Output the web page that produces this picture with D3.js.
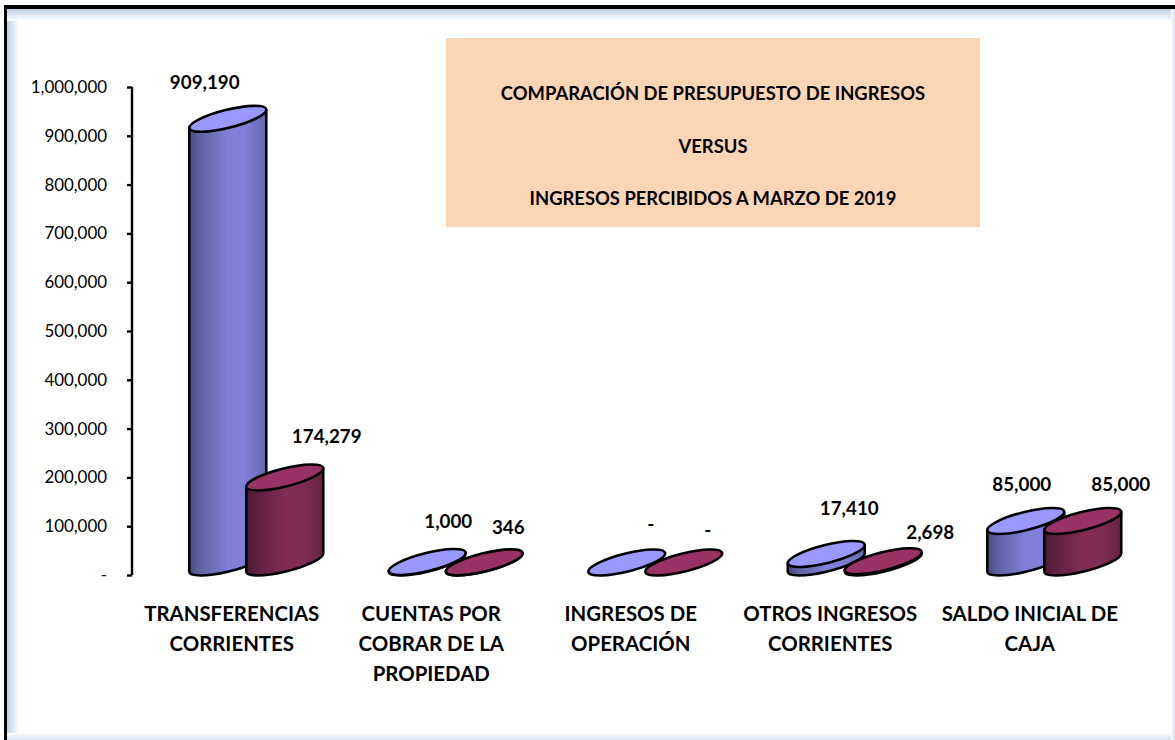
<!DOCTYPE html>
<html><head><meta charset="utf-8">
<script src="https://cdnjs.cloudflare.com/ajax/libs/d3/7.8.5/d3.min.js"></script>
<style>html,body{margin:0;padding:0;background:#fff;overflow:hidden}svg{display:block}text{font-family:Lato,"Open Sans",sans-serif;fill:#000}</style>
</head><body><svg id="c" width="1175" height="740"></svg>
<script>
const categories=[["TRANSFERENCIAS","CORRIENTES"],["CUENTAS POR","COBRAR DE LA","PROPIEDAD"],["INGRESOS DE","OPERACIÓN"],["OTROS INGRESOS","CORRIENTES"],["SALDO INICIAL DE","CAJA"]];
const presupuesto=[909190,1000,0,17410,85000];
const percibidos=[174279,346,0,2698,85000];
const tickValues=[0,100000,200000,300000,400000,500000,600000,700000,800000,900000,1000000];
const titleLines=["COMPARACIÓN DE PRESUPUESTO DE INGRESOS","VERSUS","INGRESOS PERCIBIDOS A MARZO DE 2019"];
// label offsets from the centre of each cylinder's top face
const blueLabelOffset=[[-23,-36],[21,-41],[24,-38],[23,-46],[-4,-37]];
const redLabelOffset=[[42,-41],[24,-35],[24,-32],[47,-29],[38,-37]];

const svg=d3.select("#c"),defs=svg.append("defs");
function grad(id,stops,x2=1,y2=0){const g=defs.append("linearGradient").attr("id",id).attr("x1",0).attr("y1",0).attr("x2",x2).attr("y2",y2);
 stops.forEach(s=>g.append("stop").attr("offset",s[0]).attr("stop-color",s[1]));}
grad("gBlue",[[0,"#4a4a80"],[.12,"#5f5fa0"],[.5,"#8080d8"],[.72,"#8080d8"],[1,"#6666ac"]]);
grad("gRed",[[0,"#4c1a33"],[.12,"#5c1f3e"],[.5,"#802d55"],[.72,"#802d55"],[1,"#662445"]]);
grad("glowL",[[0,"#bccfe6"],[1,"#ffffff"]]);
grad("glowT",[[0,"#bccfe6"],[1,"#ffffff"]],0,1);
grad("glowB",[[0,"#ffffff"],[1,"#d5e0ef"]],0,1);
grad("glowR",[[0,"#ffffff"],[1,"#d5e0ef"]]);

svg.append("rect").attr("x",7).attr("y",9).attr("width",12).attr("height",731).attr("fill","url(#glowL)");
svg.append("rect").attr("x",7).attr("y",9).attr("width",1168).attr("height",12).attr("fill","url(#glowT)");
svg.append("rect").attr("x",7).attr("y",733).attr("width",1168).attr("height",7).attr("fill","url(#glowB)");
svg.append("rect").attr("x",1171).attr("y",9).attr("width",4).attr("height",731).attr("fill","url(#glowR)");
svg.append("rect").attr("x",4).attr("y",5).attr("width",1171).attr("height",4).attr("fill","#000");
svg.append("rect").attr("x",4).attr("y",5).attr("width",3).attr("height",735).attr("fill","#000");

const y=d3.scaleLinear().domain([0,1000000]).range([575,87]);
const x=d3.scaleBand().domain(d3.range(categories.length)).range([132,1129.5]);
const series=d3.scaleBand().domain([0,1]).range([-32.5,81.5]);

const yAxis=d3.axisLeft(y).tickValues(tickValues).tickSize(5).tickPadding(20)
 .tickFormat(d=>d===0?"-":d3.format(",")(d));
const ag=svg.append("g").attr("transform","translate(132,0)").call(yAxis);
ag.select(".domain").attr("stroke","#000").attr("stroke-width",2.4).attr("d",`M0,${y(1000000)}V${y(0)}`);
ag.selectAll(".tick line").attr("stroke","#000").attr("stroke-width",2.4);
ag.selectAll(".tick text").style("font-family","Lato").style("font-size","16.9px").attr("fill","#000");

// Title box
svg.append("rect").attr("x",446).attr("y",38).attr("width",534).attr("height",189).attr("fill","#fcd5b5");
svg.append("g").selectAll("text").data(titleLines).join("text")
 .attr("x",713).attr("y",(d,i)=>100+i*52.5).attr("text-anchor","middle").attr("font-weight",700).attr("font-size",18.4).text(d=>d);

// cylinders
const a=39.6,b=9.05,theta=-14*Math.PI/180,faceLift=12.5;
const tT=Math.atan(-(b/a)*Math.tan(theta));
const tx=a*Math.cos(tT)*Math.cos(theta)-b*Math.sin(tT)*Math.sin(theta);
const ty=a*Math.cos(tT)*Math.sin(theta)+b*Math.sin(tT)*Math.cos(theta);
const rot=theta*180/Math.PI;
function drawCylinder(g,cx,v,fillId,topFill){
 const cyT=y(v)-faceLift,cyB=y(0)-faceLift;
 if(v>0){
  g.append("path").attr("d",`M${cx-tx},${cyT-ty}L${cx-tx},${cyB-ty}A${a},${b} ${rot} 0 0 ${cx+tx},${cyB+ty}L${cx+tx},${cyT+ty}Z`)
   .attr("fill",`url(#${fillId})`).attr("stroke","#000").attr("stroke-width",2.6).attr("stroke-linejoin","round");
 }
 g.append("ellipse").attr("rx",a).attr("ry",b).attr("transform",`translate(${cx},${cyT}) rotate(${rot})`)
  .attr("fill",topFill).attr("stroke","#000").attr("stroke-width",2.6);
}
const bars=svg.append("g");
categories.forEach((c,i)=>{
 const base=x(i)+x.bandwidth()/2;
 const g=bars.append("g");
 drawCylinder(g,base+series(0)+series.bandwidth()/2,presupuesto[i],"gBlue","#9999ff");
 drawCylinder(g,base+series(1)+series.bandwidth()/2,percibidos[i],"gRed","#993366");
});

// data labels
function lab(v,i,s,off){
 const cx=x(i)+x.bandwidth()/2+series(s)+series.bandwidth()/2;
 svg.append("text").attr("x",cx+off[i][0]).attr("y",y(v)-faceLift+off[i][1]+6.5)
  .attr("text-anchor","middle").attr("font-weight",700).attr("font-size",18.8)
  .text(v===0?"-":d3.format(",")(v));
}
presupuesto.forEach((v,i)=>lab(v,i,0,blueLabelOffset));
percibidos.forEach((v,i)=>lab(v,i,1,redLabelOffset));

// category labels
categories.forEach((lines,i)=>{
 const t=svg.append("text").attr("text-anchor","middle").attr("font-weight",700).attr("font-size",20.4);
 lines.forEach((l,k)=>t.append("tspan").attr("x",x(i)+x.bandwidth()/2).attr("y",621+k*30).text(l));
});
</script></body></html>
